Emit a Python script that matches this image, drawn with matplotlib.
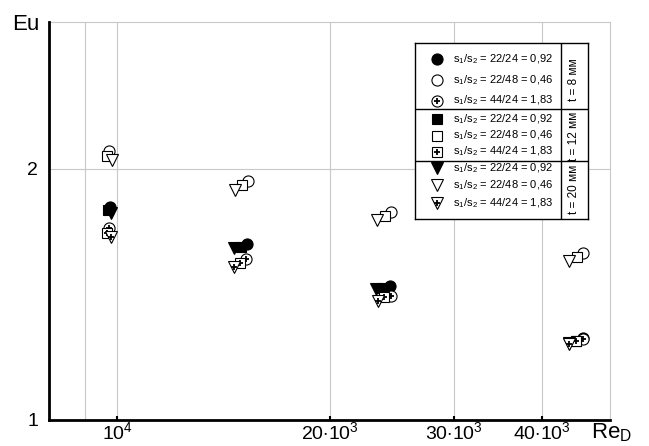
import matplotlib
matplotlib.use("Agg")
import matplotlib.pyplot as plt
from matplotlib.ticker import NullLocator, FixedLocator

plt.rcParams['font.family'] = ['Liberation Sans', 'DejaVu Sans']
plt.rcParams['mathtext.fontset'] = 'custom'
plt.rcParams['mathtext.rm'] = 'Liberation Sans'
plt.rcParams['mathtext.it'] = 'Liberation Sans'
plt.rcParams['mathtext.bf'] = 'Liberation Sans'

# ---- data (Re_D, Eu) ----
# t = 8 mm (circles)
re_t8_092 = [9770, 15280, 24400, 45800]
eu_t8_092 = [1.80, 1.624, 1.448, 1.255]
re_t8_046 = [9740, 15320, 24450, 45820]
eu_t8_046 = [2.10, 1.932, 1.775, 1.586]
re_t8_183 = [9740, 15250, 24450, 45820]
eu_t8_183 = [1.70, 1.558, 1.409, 1.251]
# t = 12 mm (squares)
re_t12_092 = [9700, 15000, 23790, 44690]
eu_t12_092 = [1.785, 1.612, 1.441, 1.245]
re_t12_046 = [9660, 15045, 23980, 44930]
eu_t12_046 = [2.069, 1.910, 1.754, 1.569]
re_t12_183 = [9680, 14914, 23900, 44690]
eu_t12_183 = [1.675, 1.543, 1.403, 1.242]
# t = 20 mm (triangles)
re_t20_092 = [9800, 14625, 23290, 43730]
eu_t20_092 = [1.77, 1.606, 1.435, 1.238]
re_t20_046 = [9820, 14672, 23360, 43730]
eu_t20_046 = [2.051, 1.888, 1.734, 1.551]
re_t20_183 = [9800, 14625, 23410, 43730]
eu_t20_183 = [1.657, 1.525, 1.390, 1.234]

x_ticks = [10000, 20000, 30000, 40000]
x_minor_ticks = [9000]
x_ticklabels = [r"10$^4$", r"20$\cdot$10$^3$", r"30$\cdot$10$^3$", r"40$\cdot$10$^3$"]
y_ticks = [1, 2]
y_ticklabels = ["1", "2"]

legend_texts = ["s$_1$/s$_2$ = 22/24 = 0,92",
                "s$_1$/s$_2$ = 22/48 = 0,46",
                "s$_1$/s$_2$ = 44/24 = 1,83"]
t_labels = ["t = 8 мм", "t = 12 мм", "t = 20 мм"]

W, H = 649, 446
fig = plt.figure(figsize=(W / 100, H / 100), dpi=100)
ax = fig.add_axes([49 / W, 1 - 420 / H, (610 - 49) / W, (420 - 21.7) / H])
ax.set_xscale('log')
ax.set_yscale('log')
ax.set_xlim(8000, 50000)
ax.set_ylim(1, 3)

ax.xaxis.set_major_locator(FixedLocator(x_ticks))
ax.xaxis.set_minor_locator(FixedLocator(x_minor_ticks))
ax.set_xticklabels(x_ticklabels, fontsize=14)
ax.xaxis.set_minor_formatter(plt.NullFormatter())
ax.yaxis.set_major_locator(FixedLocator(y_ticks))
ax.yaxis.set_minor_locator(NullLocator())
ax.set_yticklabels(y_ticklabels, fontsize=14)
ax.tick_params(axis='x', which='major', direction='in', length=3, width=1.5, pad=1)
ax.tick_params(axis='x', which='minor', length=0)
ax.tick_params(axis='y', length=0, pad=8)
ax.grid(True, which='both', color='#c8c8c8', linewidth=0.8)
ax.set_axisbelow(True)
for s in ('left', 'bottom'):
    ax.spines[s].set_linewidth(2)
    ax.spines[s].set_color('black')
    ax.spines[s].set_zorder(5)
for s in ('top', 'right'):
    ax.spines[s].set_linewidth(0.8)
    ax.spines[s].set_color('#c8c8c8')

ms = {'o': 8, 's': 7.5, 'v': 8.5}
plus_ms = {'o': 5, 's': 5, 'v': 5}


def draw(ax, x, y, m, kind, scale=1.0, z=3):
    size = ms[m] * scale
    if kind == 'filled':
        ax.plot(x, y, ls='none', marker=m, ms=size, mfc='black', mec='black', mew=0.8, zorder=z)
    elif kind == 'open':
        ax.plot(x, y, ls='none', marker=m, ms=size, mfc='white', mec='black', mew=0.8, zorder=z)
    else:
        ax.plot(x, y, ls='none', marker=m, ms=size, mfc='white', mec='black', mew=0.8, zorder=z)
        ax.plot(x, y, ls='none', marker='+', ms=plus_ms[m] * scale, mec='black', mew=1.3, zorder=z + 0.1)


series = [
    ('o', re_t8_092, eu_t8_092, re_t8_046, eu_t8_046, re_t8_183, eu_t8_183, 3),
    ('s', re_t12_092, eu_t12_092, re_t12_046, eu_t12_046, re_t12_183, eu_t12_183, 4),
    ('v', re_t20_092, eu_t20_092, re_t20_046, eu_t20_046, re_t20_183, eu_t20_183, 5),
]
for m, rf, ef, ro, eo, rp, ep, z in series:
    draw(ax, rf, ef, m, 'filled', z=z)
    draw(ax, ro, eo, m, 'open', z=z)
    draw(ax, rp, ep, m, 'plus', z=z + 0.2)

fig.text(12 / W, 1 - 30 / H, "Eu", fontsize=16, ha='left', va='baseline')
fig.text(591 / W, 1 - 438 / H, r"Re$_{\mathregular{D}}$", fontsize=16, ha='left', va='baseline')

# ---- legend box ----
lx0, lx1, ly0, ly1 = 415, 588, 43, 219
lax = fig.add_axes([lx0 / W, 1 - ly1 / H, (lx1 - lx0) / W, (ly1 - ly0) / H])
lw, lh = lx1 - lx0, ly1 - ly0
lax.set_xlim(0, lw)
lax.set_ylim(lh, 0)
lax.set_xticks([])
lax.set_yticks([])
for s in lax.spines.values():
    s.set_linewidth(1.0)
    s.set_color('black')
lax.set_zorder(10)
divx = 145.7
lax.axvline(divx, color='black', lw=1.0)
for yd in (66.3, 117.7):
    lax.axhline(yd, color='black', lw=1.0)

row_y = [[16, 37, 57.7], [76, 92.5, 108.7], [125.3, 142, 159.7]]
group_markers = ['o', 's', 'v']
group_t_y = [37, 93, 146]
kinds = ['filled', 'open', 'plus']
for gi, m in enumerate(group_markers):
    for ri, kind in enumerate(kinds):
        y = row_y[gi][ri]
        draw(lax, [22], [y], m, kind, scale=1.0, z=3)
        lax.text(38, y, legend_texts[ri], fontsize=8, ha='left', va='center')
    lax.text((divx + lw) / 2, group_t_y[gi], t_labels[gi], fontsize=8.5,
             rotation=90, ha='center', va='center')

fig.savefig("out.png", dpi=100)
